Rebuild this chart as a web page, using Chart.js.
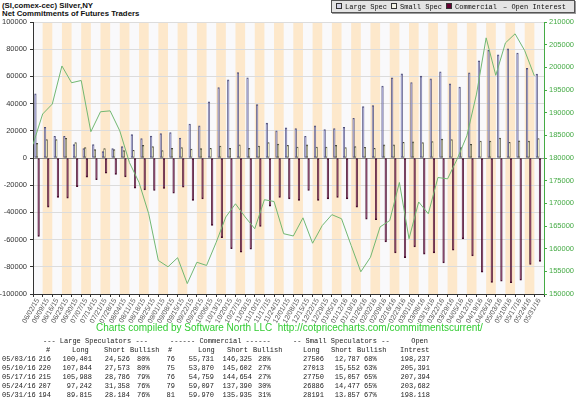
<!DOCTYPE html>
<html>
<head>
<meta charset="utf-8">
<script src="https://cdn.jsdelivr.net/npm/chart.js@4.4.1/dist/chart.umd.min.js"></script>
<style>
    body { margin: 0; background: #fff; }
    #wrap { position: relative; width: 576px; height: 397px; overflow: hidden; font-family: 'Liberation Sans', sans-serif; }
    #chartBox { position: absolute; left: 0; top: 0; width: 576px; height: 330px; }
    .title { position: absolute; left: 2px; font: bold 7.8px 'Liberation Sans', sans-serif; color: #111; white-space: nowrap; }
    #legend { position: absolute; left: 331px; top: 0px; width: 242px; height: 11px; background: #e4e4e4;
              border: 1px solid #555; box-shadow: 1px 1px 0 #999; font: 7px 'Liberation Mono', monospace; color: #111; }
    .lg { position: absolute; top: 2px; white-space: nowrap; line-height: 8px; }
    .ico { display: inline-block; width: 4px; height: 4px; border: 1px solid #333; margin-right: 3px; vertical-align: 0px; }
    #footer { position: absolute; left: 96px; top: 322px; font: 10px 'Liberation Sans', sans-serif; color: #3c3; white-space: nowrap; }
    .cell { position: absolute; font: 7px 'Liberation Mono', monospace; color: #222; white-space: pre; line-height: 9px; }
</style>
</head>
<body>
<div id="wrap">
    <div class="title" style="top:1px">(SI,comex-cec) Silver,NY</div>
    <div class="title" style="top:9px">Net Commitments of Futures Traders</div>
    <div id="chartBox"><canvas id="cotChart"></canvas></div>
    <div id="legend">
        <span class="lg" style="left:4px"><span class="ico" style="background:#d4d4e6"></span>Large Spec</span>
        <span class="lg" style="left:59px"><span class="ico" style="background:#f2f2e6"></span>Small Spec</span>
        <span class="lg" style="left:114px"><span class="ico" style="background:#660033"></span>Commercial</span>
        <span class="lg" style="left:171px">&#8211; Open Interest</span>
    </div>
    <div id="footer">Charts compiled by Software North LLC&nbsp; http://cotpricecharts.com/commitmentscurrent/</div>
    <div id="table"></div>
</div>
<script>
// ===== Data =====
const dates = [
    '06/02/15', '06/09/15', '06/16/15', '06/23/15', '06/30/15', '07/07/15', '07/14/15', '07/21/15',
    '07/28/15', '08/04/15', '08/11/15', '08/18/15', '08/25/15', '09/01/15', '09/08/15', '09/15/15',
    '09/22/15', '09/29/15', '10/06/15', '10/13/15', '10/20/15', '10/27/15', '11/03/15', '11/10/15',
    '11/17/15', '11/24/15', '12/01/15', '12/08/15', '12/15/15', '12/22/15', '12/29/15', '01/05/16',
    '01/12/16', '01/19/16', '01/26/16', '02/02/16', '02/09/16', '02/16/16', '02/23/16', '03/01/16',
    '03/08/16', '03/15/16', '03/22/16', '03/29/16', '04/05/16', '04/12/16', '04/19/16', '04/26/16',
    '05/03/16', '05/10/16', '05/17/16', '05/24/16', '05/31/16'
];

const largeSpec = [
    47200, 22600, 16000, 16000, 9800, 6900, 9800, 4700, 6900, 8400, 17200, 14300, 16200, 17900,
    18700, 14700, 25000, 23600, 41300, 51800, 57500, 62900, 59000, 39300, 25600, 19900, 22100,
    21600, 16000, 23600, 20900, 21600, 22600, 29200, 37800, 38600, 52800, 59000, 61900, 55500,
    60200, 58200, 63400, 54500, 52100, 62700, 71500, 79100, 75875, 80271, 77202, 65884, 61631
];

const smallSpec = [
    10800, 13500, 13500, 14500, 11300, 7600, 6100, 6900, 6100, 5400, 5700, 9300, 8400, 5400,
    7100, 7600, 6600, 6900, 7100, 8800, 7100, 9600, 7100, 8800, 11300, 10300, 9300, 8100,
    9600, 8100, 8100, 9300, 7600, 8400, 7900, 7100, 9600, 9600, 11500, 11800, 11300, 12000,
    14000, 13500, 7600, 10100, 12500, 12500, 14719, 11461, 12693, 12409, 14334
];

const commercial = [
    -57600, -36100, -29000, -29500, -21000, -14100, -15900, -11200, -12000, -13900, -22200,
    -23400, -23900, -22400, -25900, -21500, -31200, -30000, -49500, -58500, -66600, -69300,
    -67100, -50300, -35400, -29000, -30000, -31200, -23900, -31200, -30000, -29000, -30000,
    -36100, -44900, -45400, -61700, -69800, -73200, -65400, -70700, -69800, -77100, -67800,
    -59500, -72000, -83900, -91500, -90594, -91732, -89895, -78293, -75965
];

const openInterest = [
    183000, 189700, 191900, 200300, 196600, 197100, 185800, 190200, 190400, 186000, 179000,
    174600, 167700, 157400, 156000, 158000, 152300, 157000, 156300, 161400, 167000, 169900,
    167000, 164400, 170800, 170400, 163300, 162800, 166800, 161200, 165100, 167500, 166600,
    160700, 154900, 158100, 164800, 166200, 174600, 162200, 170300, 167700, 175700, 175400,
    179800, 184900, 194100, 206500, 198237, 205391, 207394, 203682, 198118
];

// Table below the chart
const tableDates = ['05/03/16', '05/10/16', '05/17/16', '05/24/16', '05/31/16'];
const lsCount = ['216', '220', '215', '207', '194'];
const lsLong = ['100,401', '107,844', '105,988', '97,242', '89,815'];
const lsShort = ['24,526', '27,573', '28,786', '31,358', '28,184'];
const lsBull = ['80%', '80%', '79%', '76%', '76%'];
const cmCount = ['76', '75', '76', '79', '81'];
const cmLong = ['55,731', '53,870', '54,759', '59,097', '59,970'];
const cmShort = ['146,325', '145,602', '144,654', '137,390', '135,935'];
const cmBull = ['28%', '27%', '27%', '30%', '31%'];
const ssLong = ['27506', '27013', '27750', '26886', '28191'];
const ssShort = ['12,787', '15,552', '15,057', '14,477', '13,857'];
const ssBull = ['68%', '63%', '65%', '65%', '67%'];
const oiTable = ['198,237', '205,391', '207,394', '203,682', '198,118'];

// ===== Table =====
function cell(text, x, y, align) {
    const d = document.createElement('div');
    d.className = 'cell';
    d.textContent = text;
    d.style.top = (y - 4.5) + 'px';
    if (align === 'right') {
        d.style.right = (576 - x) + 'px';
    } else {
        d.style.left = x + 'px';
    }
    document.getElementById('table').appendChild(d);
}

cell('--- Large Speculators ---', 43, 341);
cell('------ Commercial ------', 170, 341);
cell('-- Small Speculators --', 293, 341);
cell('Open', 428, 341, 'right');
cell('#', 46, 350);
cell('Long', 72, 350);
cell('Short', 104, 350);
cell('Bullish', 130, 350);
cell('#', 168, 350);
cell('Long', 198, 350);
cell('Short', 227, 350);
cell('Bullish', 253, 350);
cell('Long', 303, 350);
cell('Short', 331, 350);
cell('Bullish', 357, 350);
cell('Intrest', 400, 350);

tableDates.forEach((d, i) => {
    const y = 359 + i * 9;
    cell(d, 2, y);
    cell(lsCount[i], 51, y, 'right');
    cell(lsLong[i], 92, y, 'right');
    cell(lsShort[i], 130, y, 'right');
    cell(lsBull[i], 137, y);
    cell(cmCount[i], 175, y, 'right');
    cell(cmLong[i], 214, y, 'right');
    cell(cmShort[i], 252, y, 'right');
    cell(cmBull[i], 258, y);
    cell(ssLong[i], 324, y, 'right');
    cell(ssShort[i], 360, y, 'right');
    cell(ssBull[i], 364, y);
    cell(oiTable[i], 430, y, 'right');
});

// ===== Chart =====
// Alternating white / peach column background
const stripes = {
    id: 'stripes',
    beforeDraw(chart) {
        const { ctx, chartArea, scales } = chart;
        const xs = scales.x;
        const w = (chartArea.right - chartArea.left) / dates.length;
        ctx.save();
        ctx.fillStyle = '#f9f9fb';
        ctx.fillRect(chartArea.left, chartArea.top, chartArea.right - chartArea.left, chartArea.bottom - chartArea.top);
        ctx.fillStyle = '#fde8cb';
        dates.forEach((d, i) => {
            if (i % 2 === 1) {
                const c = xs.getPixelForValue(i);
                ctx.fillRect(c - w / 2, chartArea.top, w, chartArea.bottom - chartArea.top);
            }
        });
        ctx.restore();
    }
};

const barCommon = {
    borderWidth: 1,
    borderSkipped: false,
    categoryPercentage: 1.0,
    barPercentage: 1.0,
    order: 1
};

const ctx = document.getElementById('cotChart').getContext('2d');

new Chart(ctx, {
    type: 'bar',
    data: {
        labels: dates,
        datasets: [
            {
                // open interest vertices sit on the left edge of each week's column
                type: 'line',
                label: 'Open Interest',
                data: openInterest.map((v, i) => ({ x: i, y: v })),
                xAxisID: 'xl',
                yAxisID: 'y2',
                borderColor: '#72b872',
                borderWidth: 1,
                pointRadius: 0,
                tension: 0,
                order: 0
            },
            Object.assign({
                label: 'Large Spec',
                data: largeSpec,
                backgroundColor: '#9a9ad4',
                borderColor: '#505078'
            }, barCommon),
            Object.assign({
                label: 'Small Spec',
                data: smallSpec,
                backgroundColor: '#ffffc4',
                borderColor: '#4a4a3a'
            }, barCommon),
            Object.assign({
                label: 'Commercial',
                data: commercial,
                backgroundColor: '#6b1446',
                borderColor: '#420c2a'
            }, barCommon)
        ]
    },
    options: {
        responsive: true,
        maintainAspectRatio: false,
        animation: false,
        layout: {
            padding: { top: 22, left: 0, right: 0, bottom: 0 }
        },
        plugins: {
            legend: { display: false },
            tooltip: { enabled: false }
        },
        scales: {
            x: {
                offset: true,
                grid: {
                    offset: true,
                    drawOnChartArea: false,
                    tickLength: 3,
                    color: '#333'
                },
                border: { color: '#333' },
                ticks: {
                    autoSkip: false,
                    maxRotation: 60,
                    minRotation: 60,
                    padding: 0,
                    color: '#555',
                    font: { size: 7, family: 'Liberation Sans' }
                },
                afterFit(scale) { scale.height = 36; }
            },
            xl: {
                type: 'linear',
                display: false,
                offset: false,
                min: 0,
                max: dates.length
            },
            y: {
                position: 'left',
                min: -100000,
                max: 100000,
                ticks: {
                    stepSize: 20000,
                    padding: 3,
                    color: '#333',
                    font: { size: 7.5, family: 'Liberation Sans' },
                    callback: (v) => String(v)
                },
                grid: {
                    color: (c) => c.tick && c.tick.value === 0 ? '#888' : '#dcdcdc',
                    tickLength: 3,
                    tickColor: '#333'
                },
                border: { color: '#333' },
                afterFit(scale) { scale.width = 33; }
            },
            y2: {
                position: 'right',
                min: 150000,
                max: 210000,
                ticks: {
                    stepSize: 5000,
                    padding: 2,
                    color: '#44aa44',
                    font: { size: 7.5, family: 'Liberation Sans' },
                    callback: (v) => String(v)
                },
                grid: {
                    drawOnChartArea: false,
                    tickLength: 3,
                    color: '#44aa44'
                },
                border: { color: '#44aa44' },
                afterFit(scale) { scale.width = 32; }
            }
        }
    },
    plugins: [stripes]
});
</script>
</body>
</html>
